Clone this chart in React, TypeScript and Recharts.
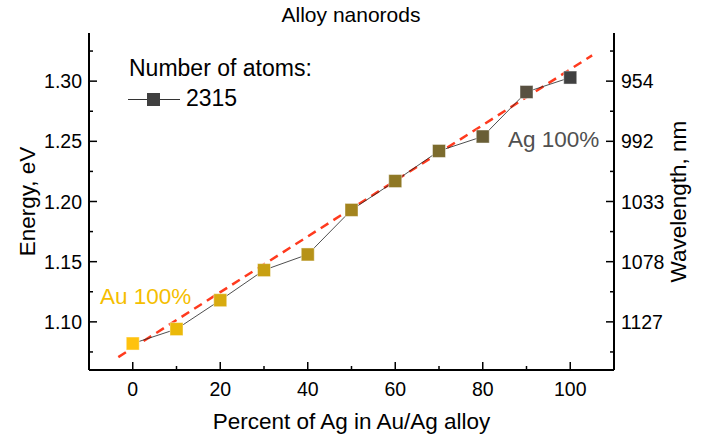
import React from 'react';
import { ComposedChart, Line, XAxis, YAxis, Customized } from 'recharts';

// Energy of the plasmon peak vs. silver fraction in the alloy rods
const AG_PERCENT = [0, 10, 20, 30, 40, 50, 60, 70, 80, 90, 100];
const ENERGY_EV = [1.082, 1.094, 1.118, 1.143, 1.156, 1.193, 1.217, 1.242, 1.254, 1.291, 1.303];
const MARKER_COLORS = [
  '#FFC20E', '#EBB90A', '#D8AB0F', '#C8A013', '#B69218', '#A3841E',
  '#8F7825', '#7B6B2D', '#695E36', '#585040', '#404040',
];
const SERIES_NAME = '2315';

// linear fit, two end points
const FIT_PERCENT = [-3.3, 105];
const FIT_ENERGY = [1.0707, 1.3214];

const X_MAJOR = [0, 20, 40, 60, 80, 100];
const X_MINOR = [10, 30, 50, 70, 90];
const E_MAJOR = [1.1, 1.15, 1.2, 1.25, 1.3];
const E_MINOR = [1.075, 1.125, 1.175, 1.225, 1.275, 1.325];
const WAVELENGTH_LABELS = ['1127', '1078', '1033', '992', '954'];

const rods = AG_PERCENT.map((pct, i) => ({ pct, ev: ENERGY_EV[i] }));
const fit = FIT_PERCENT.map((pct, i) => ({ pct, ev: FIT_ENERGY[i] }));
const xTicks = [...X_MAJOR, ...X_MINOR].sort((a, b) => a - b);
const eTicks = [...E_MAJOR, ...E_MINOR].sort((a, b) => a - b);

const FONT = '"Liberation Sans", Arial, sans-serif';
const TICK_FONT = 19.5;
const MAJOR_LEN = 8;
const MINOR_LEN = 4;

const BottomTick = ({ x, y, payload }: any) => {
  const major = X_MAJOR.includes(payload.value);
  return (
    <g>
      <line x1={x} x2={x} y1={y} y2={y - (major ? MAJOR_LEN : MINOR_LEN)} stroke="#000" strokeWidth={1.5} />
      {major && (
        <text x={x} y={y + 26} textAnchor="middle" fontSize={TICK_FONT} fontFamily={FONT} fill="#000">
          {payload.value}
        </text>
      )}
    </g>
  );
};

const TopTick = ({ x, y, payload }: any) => {
  const major = X_MAJOR.includes(payload.value);
  return <line x1={x} x2={x} y1={y} y2={y + (major ? MAJOR_LEN : MINOR_LEN)} stroke="#000" strokeWidth={1.5} />;
};

const LeftTick = ({ x, y, payload }: any) => {
  const major = E_MAJOR.includes(payload.value);
  return (
    <g>
      <line x1={x} x2={x + (major ? MAJOR_LEN : MINOR_LEN)} y1={y} y2={y} stroke="#000" strokeWidth={1.5} />
      {major && (
        <text x={x - 7} y={y} dy="0.36em" textAnchor="end" fontSize={TICK_FONT} fontFamily={FONT} fill="#000">
          {payload.value.toFixed(2)}
        </text>
      )}
    </g>
  );
};

const RightTick = ({ x, y, payload }: any) => {
  const idx = E_MAJOR.indexOf(payload.value);
  const major = idx >= 0;
  return (
    <g>
      <line x1={x} x2={x - (major ? MAJOR_LEN : MINOR_LEN)} y1={y} y2={y} stroke="#000" strokeWidth={1.5} />
      {major && (
        <text x={x + 7} y={y} dy="0.36em" textAnchor="start" fontSize={TICK_FONT} fontFamily={FONT} fill="#000">
          {WAVELENGTH_LABELS[idx]}
        </text>
      )}
    </g>
  );
};

const renderSquare = (p: any) => (
  <rect
    key={`sq-${p.index}`}
    x={p.cx - 6.5}
    y={p.cy - 6.5}
    width={13}
    height={13}
    fill={MARKER_COLORS[p.index]}
    stroke="rgba(255,255,255,0.45)"
    strokeWidth={1}
  />
);

// titles, legend and the two end-member notes
const Annotations = () => (
  <g fontFamily={FONT}>
    <text x={351} y={22} textAnchor="middle" fontSize={21} fill="#000">Alloy nanorods</text>
    <text x={351.5} y={429} textAnchor="middle" fontSize={22.5} fill="#000">Percent of Ag in Au/Ag alloy</text>
    <text x={35} y={201.5} textAnchor="middle" fontSize={22.5} fill="#000" transform="rotate(-90 35 201.5)">
      Energy, eV
    </text>
    <text x={686} y={201.5} textAnchor="middle" fontSize={22.5} fill="#000" transform="rotate(-90 686 201.5)">
      Wavelength, nm
    </text>

    <text x={129} y={76} fontSize={23} fill="#000">Number of atoms:</text>
    <line x1={128} x2={180} y1={99.5} y2={99.5} stroke="#333" strokeWidth={1} />
    <rect x={147} y={93} width={13} height={13} fill={MARKER_COLORS[10]} />
    <text x={186} y={106} fontSize={23} fill="#000">{SERIES_NAME}</text>

    <text x={100} y={304} fontSize={22.5} fill="#F5BE00">Au 100%</text>
    <text x={508} y={147} fontSize={22.5} fill="#505050">Ag 100%</text>
  </g>
);

export default function App() {
  return (
    <div style={{ position: 'absolute', left: 0, top: 0, background: '#fff' }}>
      <ComposedChart width={709} height={440} margin={{ top: 33, right: 0, bottom: 0, left: 0 }}>
        <XAxis
          dataKey="pct"
          type="number"
          domain={[-10, 110]}
          ticks={xTicks}
          interval={0}
          height={70}
          tickSize={0}
          tickMargin={0}
          tickLine={false}
          tick={BottomTick}
          axisLine={{ stroke: '#000', strokeWidth: 2 }}
        />
        <XAxis
          xAxisId="top"
          orientation="top"
          type="number"
          domain={[-10, 110]}
          ticks={xTicks}
          interval={0}
          height={0}
          tickSize={0}
          tickMargin={0}
          tickLine={false}
          tick={TopTick}
          axisLine={{ stroke: '#000', strokeWidth: 2 }}
        />
        <YAxis
          type="number"
          domain={[1.06, 1.34]}
          ticks={eTicks}
          interval={0}
          width={89}
          tickSize={0}
          tickMargin={0}
          tickLine={false}
          tick={LeftTick}
          allowDataOverflow
          axisLine={{ stroke: '#000', strokeWidth: 2 }}
        />
        <YAxis
          yAxisId="right"
          orientation="right"
          type="number"
          domain={[1.06, 1.34]}
          ticks={eTicks}
          interval={0}
          width={95}
          tickSize={0}
          tickMargin={0}
          tickLine={false}
          tick={RightTick}
          allowDataOverflow
          axisLine={{ stroke: '#000', strokeWidth: 2 }}
        />
        <Line
          data={fit}
          dataKey="ev"
          type="linear"
          stroke="#FF3A1E"
          strokeWidth={2.5}
          strokeDasharray="9 6"
          dot={false}
          activeDot={false}
          isAnimationActive={false}
        />
        <Line
          data={rods}
          dataKey="ev"
          name={SERIES_NAME}
          type="linear"
          stroke="#222"
          strokeWidth={0.8}
          dot={renderSquare}
          activeDot={false}
          isAnimationActive={false}
        />
        <Customized component={Annotations} />
      </ComposedChart>
    </div>
  );
}
